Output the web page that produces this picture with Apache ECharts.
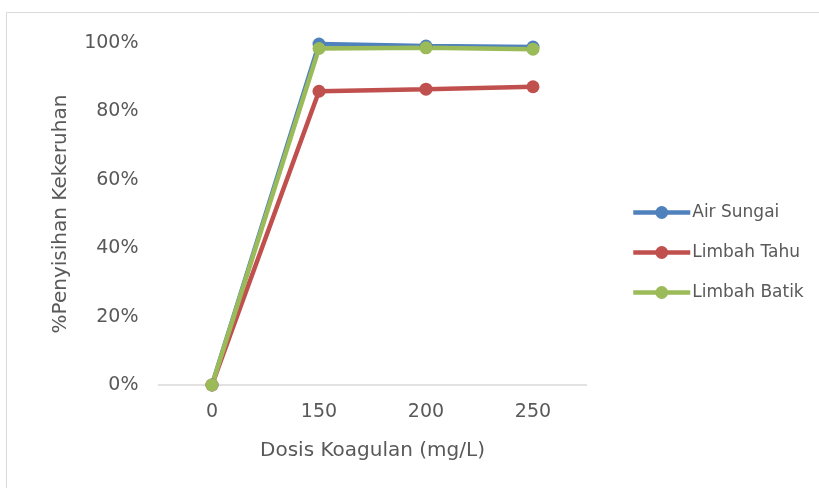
<!DOCTYPE html>
<html><head><meta charset="utf-8">
<script src="https://cdn.jsdelivr.net/npm/echarts@6/dist/echarts.min.js"></script>
<style>html,body{margin:0;padding:0;background:#fff}#c{width:819px;height:488px}</style>
</head><body><div id="c"></div>
<script>
const categories = ['0', '150', '200', '250'];
const airSungai = [0, 0.997, 0.991, 0.988];
const limbahTahu = [0, 0.859, 0.865, 0.872];
const limbahBatik = [0, 0.984, 0.986, 0.982];
const yTicks = [0, 0.2, 0.4, 0.6, 0.8, 1.0];

const font = 'DejaVu Sans';
const txt = '#595959';
const chart = echarts.init(document.getElementById('c'));
function mk(name, data, color) {
  return {
    name, type: 'line', data, color,
    symbol: 'circle', symbolSize: 13,
    lineStyle: { width: 4.5, color },
    itemStyle: { color },
    animation: false
  };
}
chart.setOption({
  animation: false,
  graphic: [{ type: 'rect', shape: { x: 6.5, y: 12.5, width: 830, height: 500 }, style: { fill: 'none', stroke: '#d9d9d9', lineWidth: 1 } }],
  grid: { left: 158.5, right: 819 - 586.5, top: 43, bottom: 488 - 385 },
  legend: {
    orient: 'vertical', left: 626, top: 199, itemWidth: 57, itemHeight: 16, itemGap: 23,
    lineStyle: { width: 4.5 },
    textStyle: { fontFamily: font, fontSize: 17, color: txt, padding: [0, 0, 0, -3] },
    data: ['Air Sungai', 'Limbah Tahu', 'Limbah Batik']
  },
  xAxis: {
    type: 'category', data: categories,
    name: 'Dosis Koagulan (mg/L)', nameLocation: 'middle', nameGap: 56,
    nameTextStyle: { fontFamily: font, fontSize: 20, color: txt },
    axisLine: { lineStyle: { color: '#d9d9d9', width: 1.5 } },
    axisTick: { show: false },
    axisLabel: { fontFamily: font, fontSize: 19, color: txt, margin: 18 }
  },
  yAxis: {
    type: 'value', min: 0, max: 1, interval: 0.2,
    name: '%Penyisihan Kekeruhan', nameLocation: 'middle', nameGap: 88, nameRotate: 90,
    nameTextStyle: { fontFamily: font, fontSize: 20, color: txt },
    splitLine: { show: false },
    axisLine: { show: false }, axisTick: { show: false },
    axisLabel: { fontFamily: font, fontSize: 19, color: txt, margin: 20,
      formatter: v => yTicks.some(t => Math.abs(t - v) < 1e-9) ? Math.round(v * 100) + '%' : '' }
  },
  series: [
    mk('Air Sungai', airSungai, '#4F81BD'),
    mk('Limbah Tahu', limbahTahu, '#C0504D'),
    mk('Limbah Batik', limbahBatik, '#9BBB59')
  ]
});
</script></body></html>
